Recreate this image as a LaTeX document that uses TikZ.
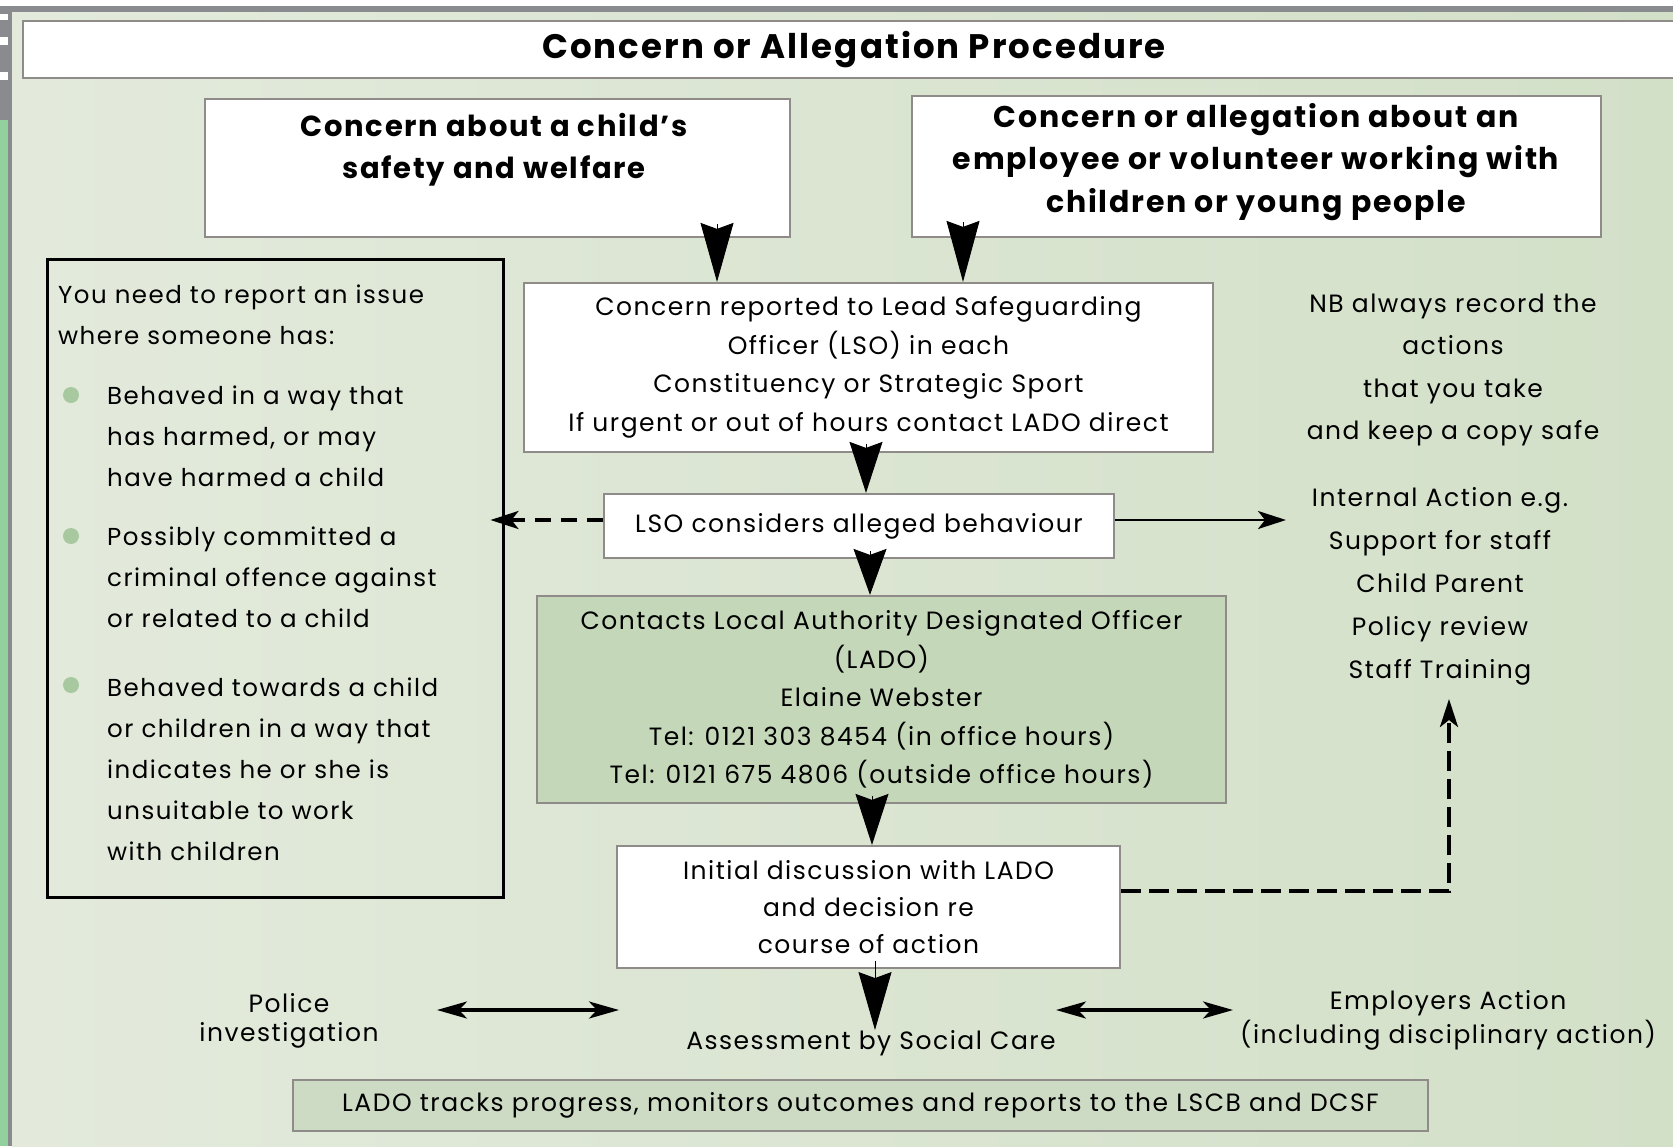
\documentclass[tikz,border=0pt]{standalone}
\usepackage{fontspec}
\setmainfont{Poppins}[LetterSpace=6]
\usetikzlibrary{arrows.meta,calc}
\definecolor{bgL}{HTML}{E3EADC}
\definecolor{bgR}{HTML}{D3E0C8}
\definecolor{boxgray}{HTML}{8F8B89}
\definecolor{ladofill}{HTML}{C4D7B8}
\definecolor{trackfill}{HTML}{CEDBC4}
\definecolor{bulletc}{HTML}{A8C8A0}
\definecolor{stripgreen}{HTML}{92D09E}
\definecolor{stripgray}{HTML}{898B8F}
\newcommand\fsz[2]{\fontsize{#1}{#2}\selectfont}
\begin{document}
\begin{tikzpicture}[x=1pt,y=-1pt,
  box/.style={draw=boxgray,line width=2.2pt,fill=white,inner sep=0pt,align=center,font=\fsz{25}{38.5}},
  txt/.style={inner sep=0pt,align=center,font=\fsz{25}{42.5}},
  ltxt/.style={inner sep=0pt,align=left,anchor=west,font=\fsz{24.5}{41}},
  fat/.style={line width=1pt,-{Stealth[length=#1,width=33pt,inset=6pt]}},
  smalltip/.style={-{Stealth[length=28pt,width=18pt,inset=7pt]}},
  thinarrow/.style={line width=2.5pt,smalltip},
  dashline/.style={line width=3.5pt,dash pattern=on 20pt off 8pt,smalltip},
  dbl/.style={line width=3.5pt,{Stealth[length=30pt,width=17pt,inset=8pt]}-{Stealth[length=30pt,width=17pt,inset=8pt]}},
  dot/.style={circle,fill=bulletc,inner sep=0pt,minimum size=16pt}
]
\useasboundingbox (0,0) rectangle (1673,1146);
% frame and background
\fill[white] (0,0) rectangle (1673,1146);
\shade[left color=bgL,right color=bgR] (12,12) rectangle (1673,1146);
\fill[stripgray] (0,6) rectangle (1673,12);
\fill[stripgray] (8,6) rectangle (12,1146);
\fill[stripgray] (0,6) rectangle (8,120);
\fill[white] (0,14) rectangle (8,20);
\fill[white] (0,37) rectangle (8,45);
\fill[white] (0,72) rectangle (8,80);
\fill[stripgreen] (0,120) rectangle (8,1146);

% title
\node[box,minimum width=1662pt,minimum height=57pt,font=\fsz{34}{38}\bfseries] (title) at (854,49.5) {Concern or Allegation Procedure};

% top boxes
\node[box,minimum width=585pt,minimum height=138pt] (boxA) at (497.5,168) {};
\node[txt,font=\fsz{29}{42}\bfseries] (txtA) at (494,150) {Concern about a child's\\safety and welfare};
\node[box,minimum width=689pt,minimum height=141pt] (boxB) at (1256.5,166.5) {};
\node[txt,font=\fsz{30}{42.5}\bfseries] (txtB) at (1256,162) {Concern or allegation about an\\employee or volunteer working with\\children or young people};

% LSO box
\node[box,minimum width=689pt,minimum height=169pt] (boxC) at (868.5,367.5) {Concern reported to Lead Safeguarding\\Officer (LSO) in each\\Constituency or Strategic Sport\\If urgent or out of hours contact LADO direct};

% left panel
\node[draw=black,line width=3pt,minimum width=456pt,minimum height=638pt,inner sep=0pt] (boxD) at (275,578) {};
\node[ltxt] (intro) at (58,315) {You need to report an issue\\where someone has:};
\node[dot] (b1) at (71,395) {};
\node[ltxt] (i1) at (107,436) {Behaved in a way that\\has harmed, or may\\have harmed a child};
\node[dot] (b2) at (71,536) {};
\node[ltxt] (i2) at (107,577) {Possibly committed a\\criminal offence against\\or related to a child};
\node[dot] (b3) at (71,685) {};
\node[ltxt] (i3) at (107,769) {Behaved towards a child\\or children in a way that\\indicates he or she is\\unsuitable to work\\with children};

% right texts
\node[txt] (nb) at (1453,370) {NB always record the\\actions\\that you take\\and keep a copy safe};
\node[txt,font=\fsz{25}{43}] (internal) at (1440,586) {Internal Action e.g.\\Support for staff\\Child Parent\\Policy review\\Staff Training};

% middle column
\node[box,minimum width=510pt,minimum height=64pt] (boxE) at (859,526) {LSO considers alleged behaviour};
\node[box,fill=ladofill,minimum width=689pt,minimum height=207pt] (boxF) at (881.5,699.5) {Contacts Local Authority Designated Officer\\(LADO)\\Elaine Webster\\Tel: 0121 303 8454 (in office hours)\\Tel: 0121 675 4806 (outside office hours)};
\node[box,minimum width=503pt,minimum height=122pt,font=\fsz{25}{37}] (boxG) at (868.5,907) {Initial discussion with LADO\\and decision re\\course of action};
\node[txt] (assess) at (871,1043) {Assessment by Social Care};
\node[txt,font=\fsz{25}{29}] (police) at (289,1021) {Police\\investigation};
\node[txt,font=\fsz{25}{34}] (employ) at (1448,1020) {Employers Action\\(including disciplinary action)};
\node[box,fill=trackfill,minimum width=1135pt,minimum height=51pt] (boxI) at (860.5,1105.5) {LADO tracks progress, monitors outcomes and reports to the LSCB and DCSF};

% fat arrows
\draw[fat=59pt] ([xshift=219.5pt,yshift=14pt]boxA.south) -- ([xshift=-151.5pt]boxC.north);
\draw[fat=61pt] ([xshift=-293.5pt,yshift=16pt]boxB.south) -- ([xshift=94.5pt]boxC.north);
\draw[fat=51pt] ([xshift=-2.5pt,yshift=9pt]boxC.south) -- ([xshift=7pt]boxE.north);
\draw[fat=46pt] ([xshift=11pt,yshift=8pt]boxE.south) -- ([xshift=-11.5pt]boxF.north);
\draw[fat=51pt] ([xshift=-9.5pt,yshift=8pt]boxF.south) -- ([xshift=3.5pt]boxG.north);
\draw[fat=58pt] ([xshift=6.5pt,yshift=8pt]boxG.south) -- ([xshift=4pt]assess.north);

% side connectors
\coordinate (lsoL) at ($(boxE.west)+(0,-6)$);
\coordinate (lsoR) at ($(boxE.east)+(0,-6)$);
\draw[dashline,dash pattern=on 16pt off 10pt] (lsoL) -- ($(lsoL -| boxD.east)+(-14,0)$);
\draw[thinarrow] (lsoR) -- (1286,0 |- lsoR);
\coordinate (gR) at ($(boxG.east)+(0,-16)$);
\draw[dashline] (gR) -| (1449,699);

% double arrows
\coordinate (dL1) at (437,1010);
\coordinate (dL2) at (619,1010);
\coordinate (dR1) at (1056,1010);
\coordinate (dR2) at (1233,1010);
\draw[dbl] (dL1) -- (dL2);
\draw[dbl] (dR1) -- (dR2);
\end{tikzpicture}
\end{document}
